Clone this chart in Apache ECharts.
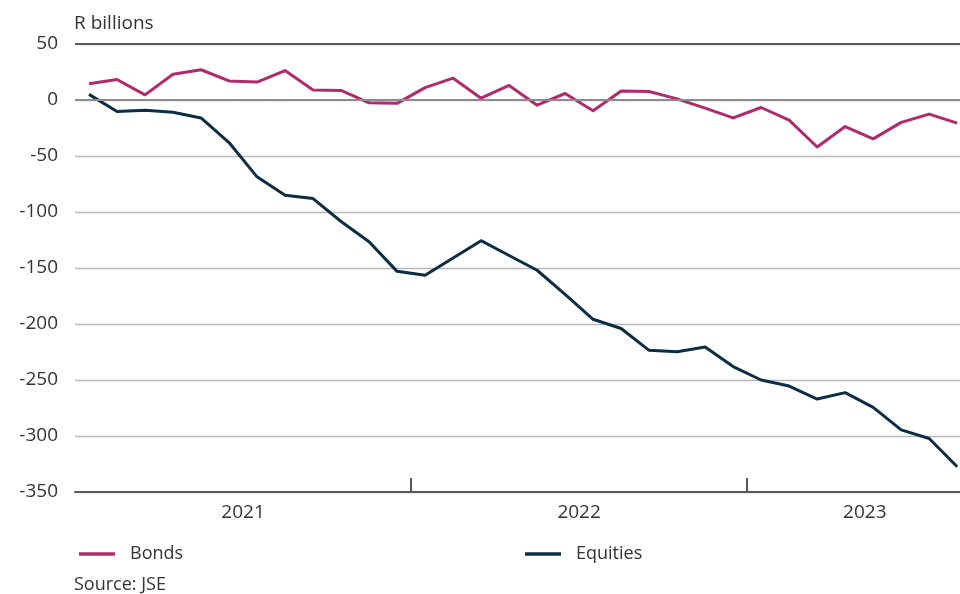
<!DOCTYPE html>
<html>
<head>
<meta charset="utf-8">
<script src="https://cdn.jsdelivr.net/npm/echarts@6/dist/echarts.min.js"></script>
<style>
  html, body { margin: 0; padding: 0; background: #fff; }
  #chart { width: 960px; height: 594px; }
</style>
</head>
<body>
<div id="chart"></div>
<script>
// Monthly net purchases by non-residents, Jan 2021 – Aug 2023 (R billions)
const months = [
  '2021-01','2021-02','2021-03','2021-04','2021-05','2021-06',
  '2021-07','2021-08','2021-09','2021-10','2021-11','2021-12',
  '2022-01','2022-02','2022-03','2022-04','2022-05','2022-06',
  '2022-07','2022-08','2022-09','2022-10','2022-11','2022-12',
  '2023-01','2023-02','2023-03','2023-04','2023-05','2023-06',
  '2023-07','2023-08'
];
const bonds = [
  14.5, 18.3, 4.6, 23, 27, 17, 16, 26.3, 9, 8.5, -2.5, -3,
  11, 19.5, 1.6, 13, -4.6, 5.8, -9.6, 8, 7.6, 1, -7.3, -16,
  -6.7, -18, -42, -23.7, -34.7, -20, -12.6, -20.7
];
const equities = [
  5, -10.3, -9.2, -11, -16, -38, -68.6, -85, -88, -108.5, -126.5, -153,
  -156.5, -141, -125.6, -138.8, -152, -173.5, -195.8, -204, -223.5, -224.7, -220.5, -238,
  -250, -255.4, -267, -261.3, -274.5, -294.5, -302.2, -327.4
];
const years = ['2021', '2022', '2023'];
const yTicks = { min: -350, max: 50, step: 50 };

// x is measured in months from the start of 2021; each point sits mid-month
const firstYear = 2021;
const monthPos = m => {
  const [y, mo] = m.split('-').map(Number);
  return (y - firstYear) * 12 + (mo - 1) + 0.5;
};
const toPairs = vals => vals.map((v, i) => [monthPos(months[i]), v]);

// year boundaries get a tick, year names sit centred in their span
const yearBounds = years.slice(1).map((_, i) => (i + 1) * 12);
const xMax = 31.6;
const yearLabelPos = years.map((_, i) => {
  const a = i * 12, b = Math.min((i + 1) * 12, xMax + 0.8);
  return (a + b) / 2;
});

const FONT = '"Open Sans", Lato, sans-serif';
const TEXT = '#333333';

const chart = echarts.init(document.getElementById('chart'), null, { renderer: 'canvas' });

chart.setOption({
  animation: false,
  backgroundColor: '#ffffff',
  textStyle: { fontFamily: FONT, color: TEXT },
  grid: { left: 75, right: 0, top: 44, bottom: 102, containLabel: false },
  title: {
    text: 'R billions',
    left: 74, top: 14, padding: 0,
    textStyle: { fontFamily: FONT, fontSize: 19, fontWeight: 'normal', color: TEXT }
  },
  legend: [
    {
      data: ['Bonds'], left: 74, top: 540,
      icon: 'rect', itemWidth: 36, itemHeight: 3.5,
      textStyle: { fontFamily: FONT, fontSize: 18, color: TEXT, padding: [0, 0, 0, 10] }
    },
    {
      data: ['Equities'], left: 520, top: 540,
      icon: 'rect', itemWidth: 36, itemHeight: 3.5,
      textStyle: { fontFamily: FONT, fontSize: 18, color: TEXT, padding: [0, 0, 0, 10] }
    }
  ],
  graphic: [{
    type: 'text', left: 74, top: 576,
    style: { text: 'Source: JSE', font: '18px ' + FONT, fill: TEXT }
  }],
  xAxis: {
    type: 'value', min: 0, max: xMax,
    axisLine: { show: true, onZero: false, lineStyle: { color: '#575757', width: 2 } },
    axisTick: {
      show: true, inside: true, length: 14, customValues: yearBounds,
      lineStyle: { color: '#575757', width: 2 }
    },
    axisLabel: {
      show: true, customValues: yearLabelPos, margin: 11,
      fontFamily: FONT, fontSize: 19, color: TEXT,
      formatter: v => years[yearLabelPos.indexOf(v)] || ''
    },
    splitLine: { show: false }
  },
  yAxis: {
    type: 'value', min: yTicks.min, max: yTicks.max, interval: yTicks.step,
    axisLine: { show: false }, axisTick: { show: false },
    axisLabel: { margin: 17, fontFamily: FONT, fontSize: 19, color: TEXT },
    splitLine: { show: true, lineStyle: { color: '#b8b8b8', width: 1.3 } }
  },
  series: [
    {
      // heavier reference lines at zero and at the top of the scale
      type: 'line', name: 'ref', data: [], z: 1, silent: true,
      markLine: {
        silent: true, symbol: 'none', label: { show: false },
        data: [
          { yAxis: 0, lineStyle: { color: '#8c8c8c', width: 2, type: 'solid' } },
          { yAxis: 50, lineStyle: { color: '#5c5c5c', width: 2, type: 'solid' } }
        ]
      }
    },
    {
      name: 'Bonds', type: 'line', data: toPairs(bonds), z: 3,
      showSymbol: false, symbol: 'none',
      lineStyle: { color: '#b02a6e', width: 3, join: 'round' },
      itemStyle: { color: '#b02a6e' }
    },
    {
      name: 'Equities', type: 'line', data: toPairs(equities), z: 3,
      showSymbol: false, symbol: 'none',
      lineStyle: { color: '#0b2d46', width: 3, join: 'round' },
      itemStyle: { color: '#0b2d46' }
    }
  ]
});
</script>
</body>
</html>
